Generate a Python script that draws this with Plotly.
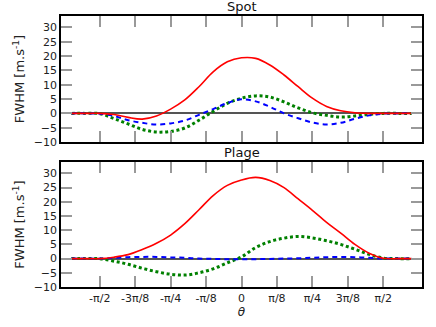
import numpy as np
import plotly.graph_objects as go
from plotly.subplots import make_subplots

# sample angles, in units of pi
theta_pi = [-0.60, -0.55, -0.50, -0.45, -0.40, -0.35, -0.30, -0.25, -0.20, -0.15, -0.10, -0.05,
            0.00, 0.05, 0.10, 0.15, 0.20, 0.25, 0.30, 0.35, 0.40, 0.45, 0.50, 0.55, 0.60]
theta = [t * np.pi for t in theta_pi]

# Spot panel
spot_red = [0, 0, 0, -0.4, -1.4, -2.0, -0.9, 1.5, 4.7, 9.3, 14.5, 18.0,
            19.4, 19.2, 16.9, 13.4, 9.3, 5.3, 2.4, 0.9, 0.2, 0, 0, 0, 0]
spot_blue = [0, 0, -0.1, -0.9, -2.4, -3.3, -3.9, -3.5, -2.5, -0.5, 1.5, 3.6,
             4.9, 4.2, 2.3, 0.0, -1.7, -3.2, -3.9, -3.3, -1.9, -0.7, -0.1, 0, 0]
spot_green = [0, 0, -0.1, -1.8, -3.7, -5.6, -6.5, -6.3, -5.1, -2.4, 0.7, 3.5,
              5.3, 6.1, 5.7, 4.0, 1.9, 0.2, -0.7, -1.25, -0.9, -0.3, 0, 0, 0]

# Plage panel
plage_red = [0, 0, 0, 0.5, 1.4, 3.2, 5.4, 8.3, 12.3, 17.2, 22.2, 25.8,
             27.7, 28.6, 27.5, 25.0, 21.0, 17.0, 12.8, 9.0, 5.0, 1.9, 0.1, 0, 0]
plage_blue = [0, 0, 0, 0.2, 0.5, 0.6, 0.6, 0.4, 0.3, 0.0, -0.1, -0.2,
              -0.2, -0.2, -0.1, 0.0, 0.1, 0.3, 0.5, 0.6, 0.5, 0.3, 0.05, 0, 0]
plage_green = [0, 0, -0.05, -0.9, -2.0, -3.4, -4.6, -5.5, -5.8, -5.0, -3.6, -1.5,
               0.6, 3.9, 6.0, 7.2, 7.8, 7.3, 6.3, 5.0, 3.3, 1.5, 0.2, 0, 0]

tick_vals = [k * np.pi / 8 for k in range(-4, 5)]
tick_text = ["-π/2", "-3π/8", "-π/4", "-π/8", "0", "π/8", "π/4", "3π/8", "π/2"]

fig = make_subplots(rows=2, cols=1)

panels = [(spot_red, spot_blue, spot_green), (plage_red, plage_blue, plage_green)]
for i, (r, b, g) in enumerate(panels):
    row = i + 1
    fig.add_trace(go.Scatter(x=theta, y=g, mode="lines", line=dict(color="#008000", width=3, dash="3px,2.7px", shape="spline")), row=row, col=1)
    fig.add_trace(go.Scatter(x=theta, y=b, mode="lines", line=dict(color="#0000ff", width=2, dash="5px,4px", shape="spline")), row=row, col=1)
    fig.add_trace(go.Scatter(x=theta, y=r, mode="lines", line=dict(color="#ff0000", width=1.6, shape="spline")), row=row, col=1)

axis_style = dict(showgrid=False, showline=True, linecolor="black", linewidth=1.6, mirror="ticks",
                  ticks="inside", ticklen=11, tickwidth=1.5, tickcolor="#999999", automargin=False,
                  tickfont=dict(family="DejaVu Sans", size=11, color="#222"))

fig.update_xaxes(range=[-2, 2], tickvals=tick_vals, ticktext=tick_text, zeroline=False, **axis_style)
fig.update_xaxes(showticklabels=False, row=1, col=1)
fig.update_xaxes(title=dict(text="<i>θ</i>", standoff=2, font=dict(family="DejaVu Sans", size=12, color="#222")), row=2, col=1)
fig.update_yaxes(range=[-10, 34], dtick=5, tick0=0, zeroline=True, zerolinecolor="#555555", zerolinewidth=1.5,
                 title=dict(text="FWHM [m.s<sup>-1</sup>]", standoff=6, font=dict(family="DejaVu Sans", size=13, color="#222")),
                 **axis_style)

fig.update_layout(
    width=436, height=327,
    margin=dict(l=61, r=14, t=16, b=40),
    showlegend=False,
    plot_bgcolor="white", paper_bgcolor="white",
    font=dict(family="DejaVu Sans", color="#222"),
    yaxis=dict(domain=[0.535, 1.0]),
    yaxis2=dict(domain=[0.0, 0.461]),
    annotations=[
        dict(text="Spot", x=0.5, y=1.0, xref="paper", yref="paper", xanchor="center", yanchor="bottom",
             showarrow=False, font=dict(size=13, color="#111")),
        dict(text="Plage", x=0.5, y=0.461, xref="paper", yref="paper", xanchor="center", yanchor="bottom",
             showarrow=False, font=dict(size=13, color="#111")),
    ],
)

fig.write_html("out.html", config={"displayModeBar": False},
               post_script="document.body.style.margin='0';")
